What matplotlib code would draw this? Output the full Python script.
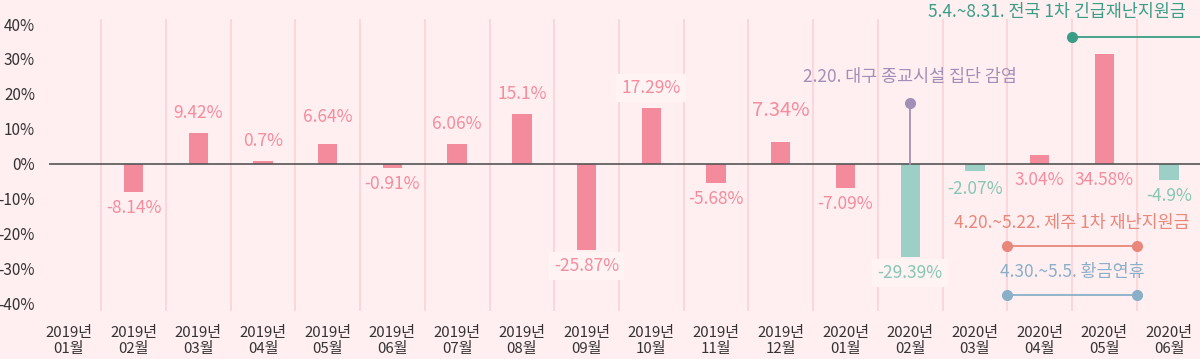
import matplotlib
matplotlib.use("Agg")
import matplotlib.pyplot as plt
import numpy as np

plt.rcParams['font.family'] = ['Noto Sans CJK KR', 'DejaVu Sans']

# ---- data ----
months = ["2019년\n01월", "2019년\n02월", "2019년\n03월", "2019년\n04월", "2019년\n05월",
          "2019년\n06월", "2019년\n07월", "2019년\n08월", "2019년\n09월", "2019년\n10월",
          "2019년\n11월", "2019년\n12월", "2020년\n01월", "2020년\n02월", "2020년\n03월",
          "2020년\n04월", "2020년\n05월", "2020년\n06월"]
# bar heights as drawn in the picture (%)
bar_values = [np.nan, -8.0, 8.7, 0.77, 5.6, -1.3, 5.6, 14.2, -24.7, 15.9,
              -5.4, 6.1, -6.9, -26.8, -2.1, 2.5, 31.4, -4.7]
# printed labels
value_labels = ["", "-8.14%", "9.42%", "0.7%", "6.64%", "-0.91%", "6.06%", "15.1%",
                "-25.87%", "17.29%", "-5.68%", "7.34%", "-7.09%", "-29.39%", "-2.07%",
                "3.04%", "34.58%", "-4.9%"]
# 0 = pink series, 1 = teal series
series_group = [0, 0, 0, 0, 0, 0, 0, 0, 0, 0, 0, 0, 0, 1, 1, 0, 0, 1]
yticks = [40, 30, 20, 10, 0, -10, -20, -30, -40]
ytick_labels = ["40%", "30%", "20%", "10%", "0%", "-10%", "-20%", "-30%", "-40%"]

event_daegu = "2.20. 대구 종교시설 집단 감염"
event_daegu_month = 13
event_daegu_level = 17.4
event_nation = "5.4.~8.31. 전국 1차 긴급재난지원금"
event_nation_start = 15.5
event_nation_level = 36.3
event_jeju = "4.20.~5.22. 제주 1차 재난지원금"
event_jeju_span = (14.5, 16.5)
event_jeju_level = -23.6
event_holiday = "4.30.~5.5. 황금연휴"
event_holiday_span = (14.5, 16.5)
event_holiday_level = -37.6

# ---- style ----
BG = "#ffeff1"
BAR_COLORS = ["#f48b9d", "#9ccfc5"]
LABEL_COLORS = ["#f58c9d", "#86c6b4"]
GRID = "#fbd3d8"
TXT = "#333333"
PURPLE = "#a28fb7"
GREEN = "#3a9e86"
ORANGE = "#e8877a"
BLUE = "#8aafc9"

fig = plt.figure(figsize=(12, 3.59), dpi=100, facecolor=BG)
ax = fig.add_axes([49 / 1200, 48 / 359, 1151 / 1200, 292 / 359])
ax.set_facecolor(BG)
n = len(months)
x = np.arange(n)
ax.set_xlim(-0.306, 17.477)
ax.set_ylim(-42.2, 41.46)

for s in ax.spines.values():
    s.set_visible(False)

# vertical separators
for b in np.arange(0.5, n, 1.0):
    ax.axvline(b, color=GRID, lw=1.2, zorder=0)

vals = np.array(bar_values, dtype=float)
colors = [BAR_COLORS[g] for g in series_group]
ax.bar(x, np.nan_to_num(vals), width=0.3, color=colors, zorder=2)
ax.axhline(0, color="#555555", lw=1.2, zorder=3)

# value labels
px = 0.72  # points per pixel at 100 dpi
for i, (v, lab) in enumerate(zip(vals, value_labels)):
    if not lab:
        continue
    fs = 12.5
    if lab == "7.34%":
        fs = 14.5
    if i in (15, 16):
        anchor, dy = 0, -16
    elif v >= 0:
        anchor = v
        dy = 20
        if lab == "6.64%":
            dy = 27
        if lab == "7.34%":
            dy = 32
    else:
        anchor, dy = v, -16
        if lab == "-2.07%":
            dy = -18
    bbox = None
    if lab in ("17.29%", "-25.87%", "-29.39%"):
        bbox = dict(boxstyle="square,pad=0.3", fc="#fff3f4", ec="none")
    ax.annotate(lab, (i, anchor), xytext=(0, dy * px), textcoords="offset points",
                ha="center", va="center", fontsize=fs,
                color=LABEL_COLORS[series_group[i]], zorder=4, bbox=bbox)

# axis ticks
ax.set_yticks(yticks)
ax.set_yticklabels(ytick_labels, fontsize=11, color=TXT)
ax.set_xticks(x)
ax.set_xticklabels(months, fontsize=10.8, color=TXT, linespacing=1.2)
ax.tick_params(axis="y", length=0, pad=10)
ax.tick_params(axis="x", length=0, pad=11)

# events
ax.plot([event_daegu_month, event_daegu_month], [0, event_daegu_level], color=PURPLE,
        lw=1.3, zorder=3)
ax.plot([event_daegu_month], [event_daegu_level], "o", color=PURPLE, ms=7, zorder=4)
ax.annotate(event_daegu, (event_daegu_month, event_daegu_level), xytext=(0, 26 * px),
            textcoords="offset points", ha="center", va="center", fontsize=12.5,
            color=PURPLE, fontweight="medium")

ax.plot([event_nation_start, 18.5], [event_nation_level] * 2, color=GREEN, lw=1.3,
        zorder=3, clip_on=False)
ax.plot([event_nation_start], [event_nation_level], "o", color=GREEN, ms=7, zorder=4,
        clip_on=False)
ax.annotate(event_nation, (15.27, event_nation_level), xytext=(0, 25 * px),
            textcoords="offset points", ha="center", va="center", fontsize=12.5,
            color=GREEN, fontweight="medium", annotation_clip=False)

for label, span, level, col in [(event_jeju, event_jeju_span, event_jeju_level, ORANGE),
                                (event_holiday, event_holiday_span, event_holiday_level, BLUE)]:
    ax.plot(list(span), [level] * 2, color=col, lw=1.3, zorder=3)
    ax.plot(list(span), [level] * 2, "o", color=col, ms=7, zorder=4)
    ax.annotate(label, (sum(span) / 2, level), xytext=(0, 23 * px),
                textcoords="offset points", ha="center", va="center", fontsize=12.5,
                color=col, fontweight="medium")

fig.savefig("out.png", dpi=100, facecolor=BG)
